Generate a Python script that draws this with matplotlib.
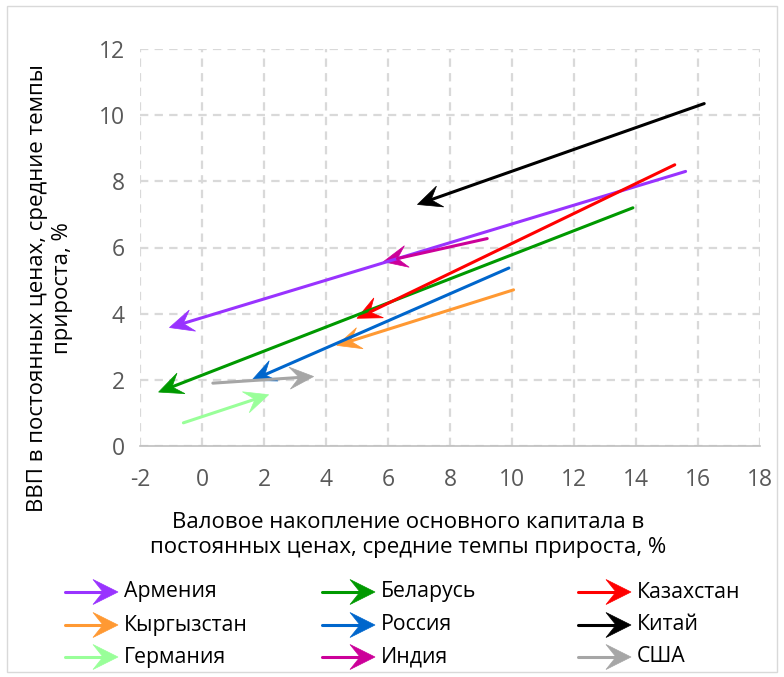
import numpy as np
import matplotlib
matplotlib.use('Agg')
import matplotlib.pyplot as plt
from matplotlib.patches import Polygon, Rectangle
from matplotlib.lines import Line2D
from matplotlib.transforms import IdentityTransform

plt.rcParams['font.family'] = ['Open Sans', 'DejaVu Sans']
plt.rcParams['lines.scale_dashes'] = False
plt.rcParams['axes.unicode_minus'] = False

# страны, начало и конец стрелки (x - накопление капитала, y - ВВП)
countries = ['Армения', 'Беларусь', 'Казахстан',
             'Кыргызстан', 'Россия', 'Китай',
             'Германия', 'Индия', 'США']
x_start = [15.6, 13.9, 15.25, 10.05, 9.9, 16.2, -0.6, 9.2, 0.35]
y_start = [8.3, 7.2, 8.5, 4.72, 5.38, 10.35, 0.7, 6.27, 1.9]
x_end = [-1.05, -1.4, 5.0, 4.35, 1.6, 6.95, 2.15, 5.85, 3.6]
y_end = [3.58, 1.63, 3.86, 3.04, 1.98, 7.3, 1.55, 5.57, 2.1]
colors = ['#9933FF', '#009900', '#FF0000',
          '#FF9933', '#0066CC', '#000000',
          '#99FF99', '#CC0099', '#A6A6A6']

x_ticks = list(range(-2, 19, 2))
y_ticks = list(range(0, 13, 2))

W, H = 784, 677
fig = plt.figure(figsize=(W / 100, H / 100), dpi=100)
ax = fig.add_axes([140 / W, 1 - 446 / H, 620 / W, 397 / H])
ax.set_xlim(-2, 18)
ax.set_ylim(0, 12)
ax.set_xticks(x_ticks)
ax.set_yticks(y_ticks)
ax.tick_params(length=0, labelsize=16.5, colors='#595959', pad=11)
ax.tick_params(axis='x', pad=16)
ax.grid(True, color='#D9D9D9', linewidth=1.6, linestyle=(0, (6, 4.5)))
ax.set_axisbelow(True)
for s in ['left', 'right', 'top']:
    ax.spines[s].set_visible(False)
ax.spines['bottom'].set_color('#BFBFBF')
ax.spines['bottom'].set_linewidth(1.2)
ax.spines['bottom'].set_zorder(3)


def arrow_px(p0, p1, color, L=24.0, Wd=11.0):
    p0 = np.asarray(p0, float)
    p1 = np.asarray(p1, float)
    d = p1 - p0
    u = d / np.hypot(*d)
    n = np.array([-u[1], u[0]])
    back = p1 - u * L
    notch = p1 - u * L * 0.6
    line = Line2D([p0[0], notch[0]], [p0[1], notch[1]], color=color,
                  linewidth=2.2, solid_capstyle='round', transform=IdentityTransform())
    head = Polygon([p1, back + n * Wd, notch, back - n * Wd], closed=True,
                   facecolor=color, edgecolor=color, linewidth=0.5,
                   transform=IdentityTransform())
    fig.add_artist(line)
    fig.add_artist(head)


for xs, ys, xe, ye, c in zip(x_start, y_start, x_end, y_end, colors):
    p0 = ax.transData.transform((xs, ys))
    p1 = ax.transData.transform((xe, ye))
    arrow_px(p0, p1, c)

# подписи осей
fig.text(408 / W, 1 - 535 / H,
         'Валовое накопление основного капитала в\nпостоянных ценах, средние темпы прироста, %',
         ha='center', va='center', fontsize=16, color='#000000', linespacing=1.2)
fig.text(50 / W, 1 - 288 / H,
         'ВВП в постоянных ценах, средние темпы\nприроста, %',
         ha='center', va='center', rotation=90, fontsize=16, color='#000000',
         linespacing=1.2)

# легенда
col_x = [65, 322, 578]
row_y = [592, 625, 657]
for i, (name, c) in enumerate(zip(countries, colors)):
    cx = col_x[i % 3]
    ry = H - row_y[i // 3]
    arrow_px((cx, ry), (cx + 53, ry), c, L=25, Wd=12.5)
    fig.text((cx + 59) / W, ry / H, name, ha='left', va='center',
             fontsize=15.3, color='#000000')

fig.add_artist(Rectangle((7 / W, 5 / H), 770 / W, 666 / H, transform=fig.transFigure,
                         fill=False, edgecolor='#D9D9D9', linewidth=1))

fig.savefig('out.png', dpi=100)
